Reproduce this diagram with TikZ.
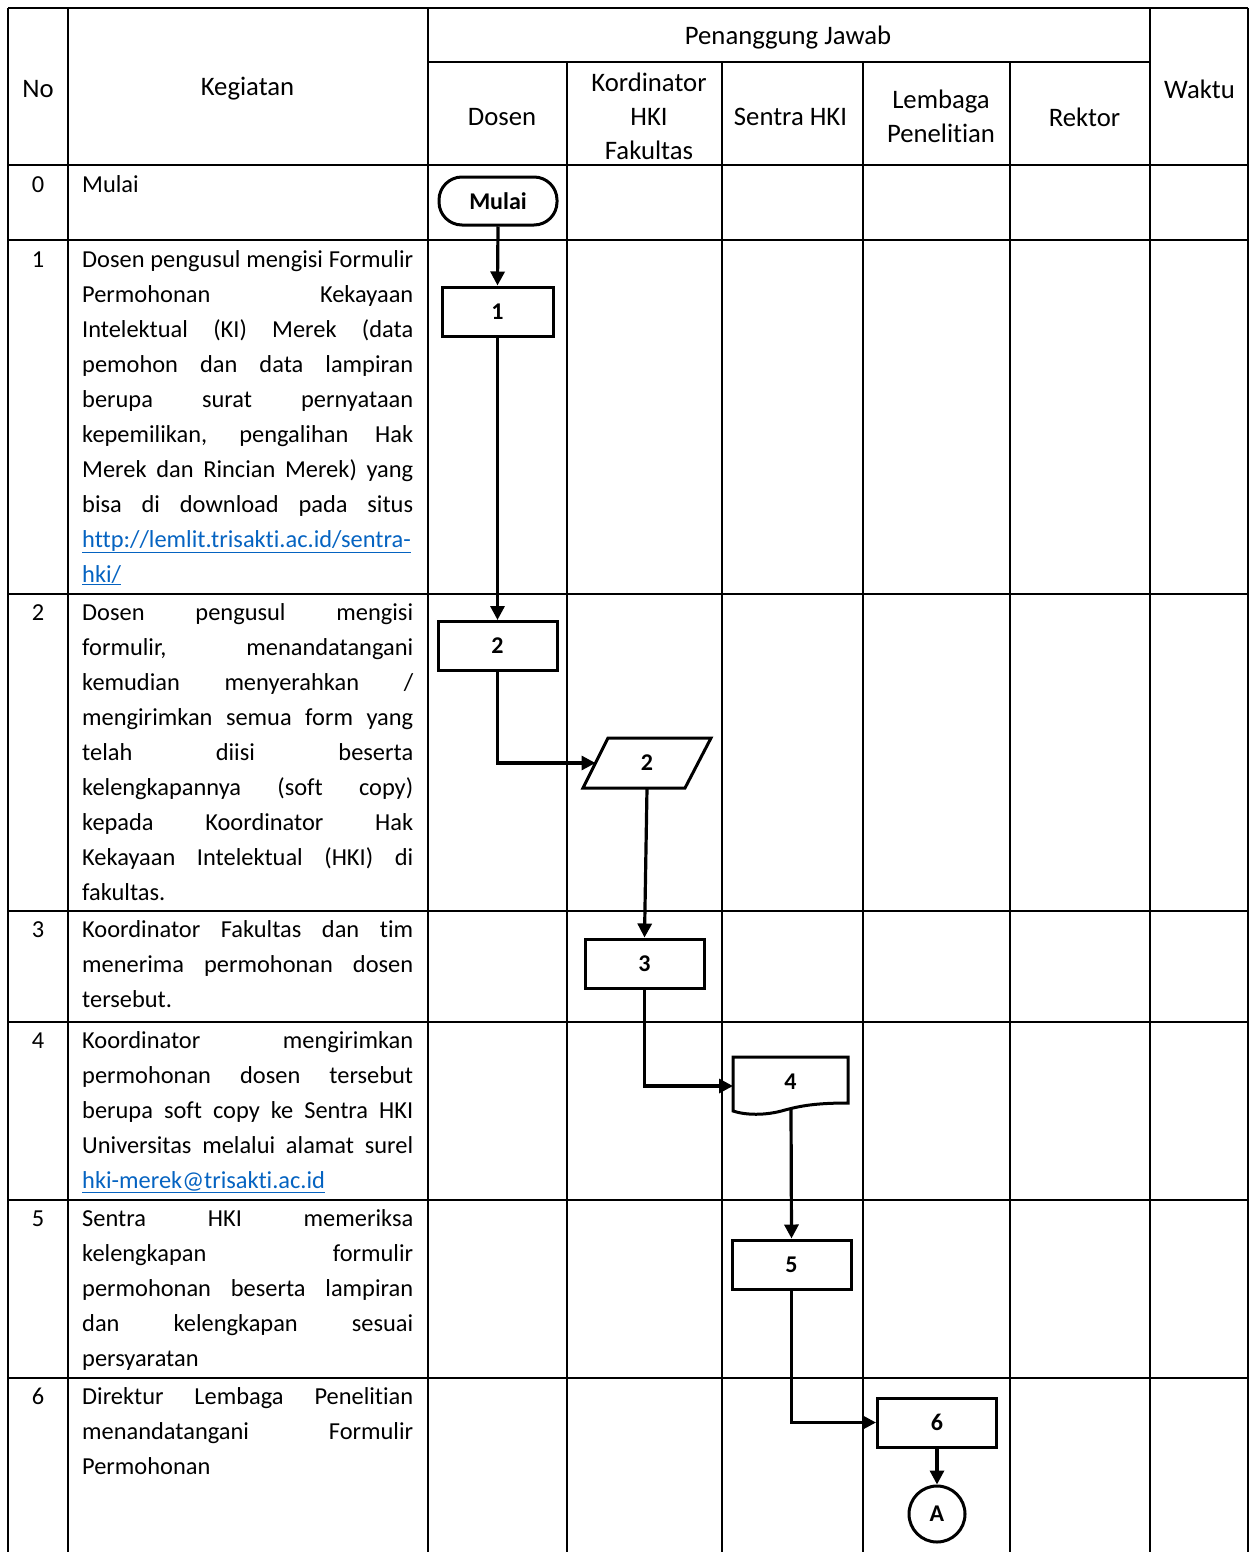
\documentclass[tikz,border=0pt]{standalone}
\usepackage{fontspec}
\setmainfont{Carlito}[Ligatures=NoCommon]
\usetikzlibrary{arrows.meta}
\definecolor{linkblue}{HTML}{0563C1}
\newcommand{\jl}[1]{\hbox to 331pt{#1}}
\newcommand{\lastl}[1]{\hbox to 331pt{#1\hfil}}
\newcommand{\lnk}[1]{\textcolor{linkblue}{\underline{#1}}}
\tikzset{
  grid/.style={line width=1.8pt},
  hdr/.style={font=\fontsize{26.7}{34}\selectfont, align=center, inner sep=0pt},
  body/.style={font=\fontsize{24.4}{35}\selectfont, anchor=base west, inner sep=0pt},
  num/.style={font=\fontsize{24.4}{35}\selectfont, anchor=base, inner sep=0pt},
  proc/.style={draw, line width=3pt, minimum width=119pt, minimum height=49pt, inner sep=0pt, font=\fontsize{24}{28}\selectfont\bfseries},
  lbl/.style={inner sep=0pt, font=\fontsize{24}{28}\selectfont\bfseries},
  shp/.style={draw, line width=3pt, line join=miter},
  arr/.style={line width=3.2pt, -{Triangle[length=14pt,width=14pt]}}
}
\begin{document}
\begin{tikzpicture}[x=1pt,y=-1pt]
\useasboundingbox (0,0) rectangle (1251,1552);
% ---------- grid ----------
\foreach \x in {8,68,428,1150,1248} \draw[grid] (\x,8) -- (\x,1552);
\foreach \x in {567,722,863,1010} \draw[grid] (\x,62) -- (\x,1552);
\draw[grid] (8,8) -- (1248,8);
\draw[grid] (428,62) -- (1150,62);
\foreach \y in {165,240,594,911,1022,1200,1378} \draw[grid] (8,\y) -- (1248,\y);
% ---------- header ----------
\node[hdr] (hNo) at (38,89) {No};
\node[hdr] (hKeg) at (247.5,89) {Kegiatan};
\node[hdr] (hPJ) at (788,38) {Penanggung Jawab};
\node[hdr] (hWak) at (1199.5,89) {Waktu};
\node[hdr] (hDos) at (502,117) {Dosen};
\node[hdr] (hKor) at (649,116) {Kordinator\\HKI\\Fakultas};
\node[hdr] (hSen) at (790.5,117) {Sentra HKI};
\node[hdr] (hLem) at (941,116) {Lembaga\\Penelitian};
\node[hdr] (hRek) at (1084.5,117) {Rektor};
% ---------- numbers ----------
\node[num] (n0) at (38,192) {0};
\node[num] (n1) at (38,267) {1};
\node[num] (n2) at (38,620) {2};
\node[num] (n3) at (38,937) {3};
\node[num] (n4) at (38,1048) {4};
\node[num] (n5) at (38,1226) {5};
\node[num] (n6) at (38,1404) {6};
% ---------- activity texts ----------
\node[body] (t0) at (82,192) {\vtop{\lastl{Mulai}}};
\node[body] (t1) at (82,267) {\vtop{%
\jl{Dosen pengusul mengisi Formulir}
\jl{Permohonan Kekayaan}
\jl{Intelektual (KI) Merek (data}
\jl{pemohon dan data lampiran}
\jl{berupa surat pernyataan}
\jl{kepemilikan, pengalihan Hak}
\jl{Merek dan Rincian Merek) yang}
\jl{bisa di download pada situs}
\lastl{\lnk{http://lemlit.trisakti.ac.id/sentra-}}
\lastl{\lnk{hki/}}}};
\node[body] (t2) at (82,620) {\vtop{%
\jl{Dosen pengusul mengisi}
\jl{formulir, menandatangani}
\jl{kemudian menyerahkan /}
\jl{mengirimkan semua form yang}
\jl{telah diisi beserta}
\jl{kelengkapannya (soft copy)}
\jl{kepada Koordinator Hak}
\jl{Kekayaan Intelektual (HKI) di}
\lastl{fakultas.}}};
\node[body] (t3) at (82,937) {\vtop{%
\jl{Koordinator Fakultas dan tim}
\jl{menerima permohonan dosen}
\lastl{tersebut.}}};
\node[body] (t4) at (82,1048) {\vtop{%
\jl{Koordinator mengirimkan}
\jl{permohonan dosen tersebut}
\jl{berupa soft copy ke Sentra HKI}
\jl{Universitas melalui alamat surel}
\lastl{\lnk{hki-merek@trisakti.ac.id}}}};
\node[body] (t5) at (82,1226) {\vtop{%
\jl{Sentra HKI memeriksa}
\jl{kelengkapan formulir}
\jl{permohonan beserta lampiran}
\jl{dan kelengkapan sesuai}
\lastl{persyaratan}}};
\node[body] (t6) at (82,1404) {\vtop{%
\jl{Direktur Lembaga Penelitian}
\jl{menandatangani Formulir}
\lastl{Permohonan}}};
% ---------- flow shapes ----------
\node[proc, rounded corners=23pt, minimum width=118pt, minimum height=48pt] (m) at (498,201) {Mulai};
\node[proc, minimum width=111pt] (b1) at (497.5,311.5) {1};
\node[proc] (b2) at (497.5,646) {2};
% parallelogram
\draw[shp] (608,738) -- (711,738) -- (685,788) -- (583,788) -- cycle;
\node[lbl, minimum width=128pt, minimum height=50pt] (p2) at (647,763) {2};
\coordinate (p2in) at (595.5,763);
\node[proc] (b3) at (644.5,963.5) {3};
% document shape
\draw[shp] (733,1057) -- (848,1057) -- (848,1103)
  .. controls (815,1103) and (800,1106) .. (785,1110)
  .. controls (765,1116) and (745,1115) .. (733,1111) -- cycle;
\node[lbl] (d4) at (790.5,1082) {4};
\coordinate (d4in) at (733,1086);
\coordinate (d4out) at (791,1108);
\node[proc] (b5) at (791.5,1264.5) {5};
\node[proc] (b6) at (937,1422.5) {6};
\node[draw, circle, line width=3pt, minimum size=56pt, inner sep=0pt, font=\fontsize{24}{28}\selectfont\bfseries] (cA) at (937,1514) {A};
% ---------- connectors ----------
\draw[arr] (m.south) -- (b1.north);
\draw[arr] (b1.south) -- (b2.north);
\draw[arr] (b2.south) |- (p2in);
\draw[arr] (p2.south) -- (b3.north);
\draw[arr] (b3.south) |- (d4in);
\draw[arr] (d4out) -- (b5.north);
\draw[arr] (b5.south) |- (b6.west);
\draw[arr] (b6.south) -- (cA.north);
\end{tikzpicture}
\end{document}
